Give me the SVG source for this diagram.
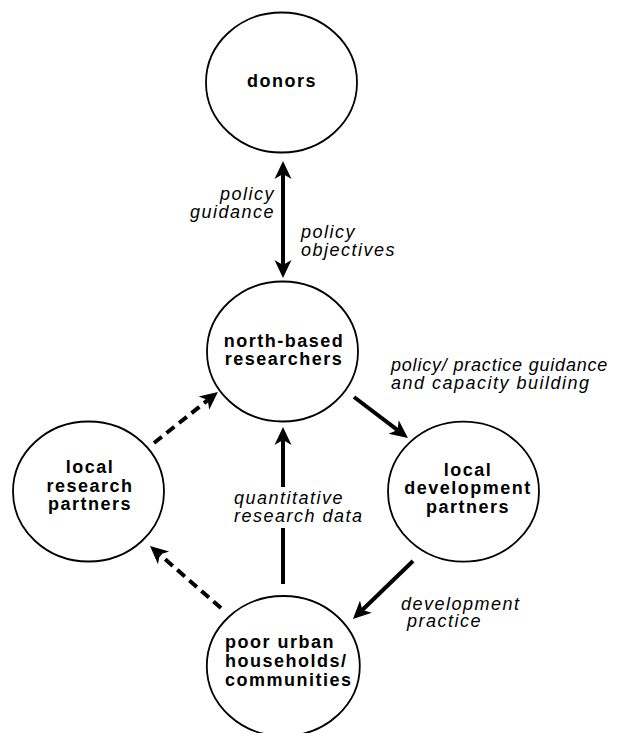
<svg xmlns="http://www.w3.org/2000/svg" width="622" height="733" viewBox="0 0 622 733">
<style>
.node ellipse{fill:#fff;stroke:#000;stroke-width:1.8}
.nt{font-family:"Liberation Sans",Arial,sans-serif;font-weight:bold;font-size:18px;letter-spacing:1.5px;fill:#000}
.lbl{font-family:"Liberation Sans",Arial,sans-serif;font-style:italic;font-size:18px;letter-spacing:1.5px;fill:#000}
.c{stroke:#000;stroke-width:4;fill:none}
.d{stroke-dasharray:10 6}
</style>
<defs>
<marker id="ah" markerUnits="userSpaceOnUse" markerWidth="30" markerHeight="30" viewBox="-10 -15 30 30" refX="0" refY="0" orient="auto-start-reverse" overflow="visible">
<path d="M13,0 L-5,-8.5 L0,0 L-5,8.5 Z" fill="#000" stroke="none"/>
</marker>
</defs>
<g id="connectors">
<line class="c" x1="283" y1="174" x2="283" y2="265" marker-start="url(#ah)" marker-end="url(#ah)"/>
<line class="c" x1="354" y1="397" x2="397.6" y2="430.1" marker-end="url(#ah)"/>
<line class="c" x1="413" y1="561" x2="362.3" y2="610" marker-end="url(#ah)"/>
<line class="c" x1="283" y1="584" x2="283" y2="440" marker-end="url(#ah)"/>
<line class="c d" x1="221" y1="608" x2="159.8" y2="554.6" marker-end="url(#ah)"/>
<line class="c d" x1="154" y1="443" x2="207.8" y2="400.1" marker-end="url(#ah)"/>
</g>
<g id="labels">
<text class="lbl" text-anchor="end" x="275" y="200">policy</text>
<text class="lbl" text-anchor="end" x="275" y="218">guidance</text>
<text class="lbl" x="301" y="238">policy</text>
<text class="lbl" x="301" y="256">objectives</text>
<text class="lbl" x="391" y="371" style="letter-spacing:0.8px">policy/ practice guidance</text>
<text class="lbl" x="391" y="389">and capacity building</text>
<rect x="276" y="487" width="14" height="41" fill="#fff"/>
<text class="lbl" x="234" y="504">quantitative</text>
<text class="lbl" x="234" y="522">research data</text>
<text class="lbl" x="401" y="610">development</text>
<text class="lbl" x="407" y="627">practice</text>
</g>
<g id="donors" class="node">
<ellipse cx="281.5" cy="82.5" rx="75.5" ry="70"/>
<text class="nt" text-anchor="middle" x="282" y="87">donors</text>
</g>
<g id="north-based-researchers" class="node">
<ellipse cx="282.5" cy="351.5" rx="75.5" ry="70"/>
<text class="nt" text-anchor="middle" x="284" y="347">north-based</text>
<text class="nt" text-anchor="middle" x="284" y="365">researchers</text>
</g>
<g id="local-research-partners" class="node">
<ellipse cx="88.5" cy="491.5" rx="75.5" ry="70"/>
<text class="nt" text-anchor="middle" x="90" y="473">local</text>
<text class="nt" text-anchor="middle" x="90" y="491.5">research</text>
<text class="nt" text-anchor="middle" x="90" y="510">partners</text>
</g>
<g id="local-development-partners" class="node">
<ellipse cx="463.5" cy="491.7" rx="75.5" ry="70"/>
<text class="nt" text-anchor="middle" x="468" y="476">local</text>
<text class="nt" text-anchor="middle" x="468" y="494">development</text>
<text class="nt" text-anchor="middle" x="468" y="512.5">partners</text>
</g>
<g id="poor-urban-households" class="node">
<ellipse cx="283.3" cy="666" rx="76.5" ry="70"/>
<text class="nt" x="225" y="648">poor urban</text>
<text class="nt" x="225" y="667">households/</text>
<text class="nt" x="225" y="686">communities</text>
</g>
</svg>
